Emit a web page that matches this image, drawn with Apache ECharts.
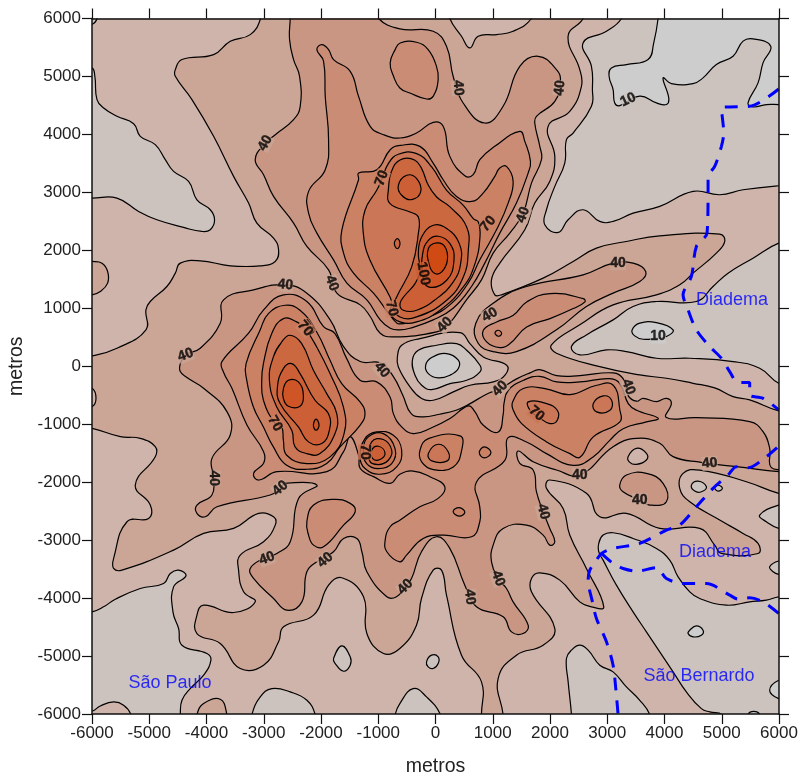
<!DOCTYPE html>
<html><head><meta charset="utf-8">
<style>html,body{margin:0;padding:0;background:#fff}#c{width:801px;height:778px}</style>
<script src="https://cdn.jsdelivr.net/npm/echarts@6/dist/echarts.min.js"></script>
</head><body><div id="c"></div>
<script>
// Band fill colours: index = level band (0: <10, 1: 10-20, 2: 20-30 ... 11: >110)
const bandColors=['#cdcdcd','#ccc3bf','#ceb4aa','#cba595','#c99683','#ca8c75','#cb8163','#cb7656','#cc6840','#cc5f36','#cf5426','#d04a14'];

// Regions below 20
const lo_topRight=[[3248,6200],[3248,6000],[2986,5780],[2578,5578],[2724,5175],[2741,4772],[2724,4485],[2404,4024],[2287,3909],[2258,3506],[2084,3103],[1938,2700],[1909,2441],[2142,2309],[2316,2527],[2578,2700],[2869,2499],[3102,2499],[3451,2642],[3917,2758],[4499,3017],[4964,2959],[5372,3045],[5995,3114],[6200,3114],[6200,6200]];
const lo_rightMid=[[2375,340],[2636,541],[3102,800],[3451,1030],[3859,1117],[4557,1117],[4848,1376],[5110,1606],[5546,1865],[5995,2124],[6200,2124],[6200,-294],[5995,-294],[5663,-35],[5197,81],[4441,138],[3859,138],[3335,253],[2986,282],[2520,196]];
const lo_left=[[-6200,5150],[-6000,5150],[-5950,5000],[-5913,4600],[-5797,4456],[-5564,4312],[-5273,4185],[-5157,3967],[-4895,3823],[-4720,3564],[-4575,3362],[-4313,3189],[-4167,2872],[-3934,2700],[-3859,2527],[-3934,2355],[-4080,2326],[-4400,2395],[-4866,2527],[-5186,2671],[-5564,2902],[-6000,2902],[-6200,2902]];
const lo_corner=[[-6200,5900],[-6000,5900],[-5913,6000],[-5913,6200],[-6200,6200]];
const lo_bottomLeft=[[-6200,-4237],[-6000,-4237],[-5797,-4151],[-5593,-4019],[-5157,-3834],[-4749,-3748],[-4633,-3575],[-4487,-3518],[-4359,-3615],[-4575,-3806],[-4586,-4237],[-4487,-4525],[-4429,-4813],[-3993,-4957],[-3923,-5072],[-4051,-5331],[-4284,-5561],[-4429,-5763],[-4458,-6010],[-4458,-6200],[-6200,-6200]];
const lo_bottomA=[[-3207,-6200],[-3207,-6010],[-3061,-5705],[-2858,-5561],[-2538,-5619],[-2246,-5763],[-2101,-6010],[-2101,-6200]];
const lo_isleA=[[-1781,-5043],[-1636,-4824],[-1490,-5014],[-1490,-5158],[-1606,-5262],[-1752,-5129]];
const lo_bottomB=[[-704,-6200],[-704,-6010],[-623,-5820],[-390,-5561],[-157,-5705],[87,-6010],[87,-6200]];
const lo_isleB=[[-157,-5100],[-70,-4985],[47,-5014],[47,-5129],[-41,-5215],[-128,-5187]];
const lo_bottomC=[[2287,-5043],[2375,-4899],[2520,-4813],[2666,-4899],[2870,-5158],[3102,-5273],[3335,-5532],[3568,-5763],[3742,-6010],[3742,-6200],[2375,-6200],[2375,-6010],[2317,-5446]];
const lo_bottomRight=[[2852,-3057],[2928,-2913],[3102,-2873],[3451,-2971],[3859,-3143],[4091,-3345],[4237,-3633],[4441,-3892],[4615,-4007],[5081,-4122],[5488,-4065],[5779,-4036],[5995,-3978],[6200,-3978],[6200,-6200],[5000,-6200],[5000,-6010],[4790,-5964],[4644,-5907],[4382,-5619],[4150,-5273],[3917,-4928],[3684,-4583],[3451,-4237],[3160,-3777],[2928,-3345],[2852,-3201]];
const lo_rightA=[[5663,-2568],[5995,-2395],[6200,-2395],[6200,-2798],[5995,-2798],[5779,-2683]];
const lo_rightB=[[5837,-3459],[5995,-3360],[6200,-3360],[6200,-3590],[5995,-3590],[5890,-3540]];
const lo_rightC=[[4470,-2050],[4586,-1981],[4732,-2079],[4644,-2165],[4528,-2154]];
const lo_rightD=[[4877,-2096],[4935,-2050],[5011,-2107],[4935,-2154]];
const lo_centerRing=[[-404,104],[-300,276],[20,362],[370,391],[544,276],[777,17],[777,-98],[544,-242],[253,-299],[-67,-403],[-242,-328],[-358,-155]];

// Regions below 10
const gray_topRight=[[3888,6200],[3888,6000],[3812,5580],[3713,5292],[3335,5205],[3073,5148],[3032,5004],[3102,4774],[3131,4543],[3218,4497],[3568,4659],[3859,4543],[4033,4515],[4074,4630],[3975,4975],[4120,4877],[4499,4877],[4673,4975],[4906,5206],[5197,5349],[5372,5609],[5546,5649],[5855,5522],[5721,5234],[5634,4889],[5459,4543],[5546,4474],[5779,4515],[5995,4515],[6200,4515],[6200,6200]];
const gray_right=[[3434,627],[3568,743],[3859,754],[4150,627],[4033,512],[3859,484],[3626,466],[3480,524]];
const gray_center=[[-172,17],[-67,150],[195,219],[399,104],[399,-40],[253,-155],[49,-201],[-125,-126]];
const gray_seA=[[4441,-4554],[4557,-4479],[4673,-4554],[4644,-4640],[4499,-4669],[4412,-4612]];
const gray_seB=[[5837,-5590],[5995,-5417],[6200,-5417],[6200,-5734],[5995,-5734]];
const gray_seC=[[5459,-6200],[5459,-6010],[5558,-5953],[5663,-6010],[5663,-6200]];

// Small 20-30 pockets inside lower regions
const mid_corner=[[-6200,-5953],[-6000,-5953],[-5855,-5861],[-5622,-5792],[-5448,-5849],[-5320,-6010],[-5320,-6200],[-6200,-6200]];

// Level 30 outline
const l30_main=[[2578,6200],[2578,6000],[2316,5694],[2520,5118],[2549,4830],[2345,4398],[1967,4139],[2084,3621],[1996,3189],[1734,2815],[1560,2355],[1123,1779],[978,1491],[1036,1232],[1152,1232],[1880,1520],[2404,1808],[2811,2038],[3335,2153],[3917,2251],[4964,2280],[5052,2153],[4906,1952],[4499,1606],[4266,1405],[3859,1232],[3102,1059],[2520,714],[2025,368],[2113,225],[2869,-6],[3568,-150],[4033,-207],[4499,-294],[4877,-374],[5197,-524],[5488,-581],[5995,-771],[6200,-771],[6200,-2193],[5995,-2193],[5430,-1992],[4615,-1791],[4324,-1848],[4266,-2107],[4441,-2337],[4964,-2654],[5372,-2884],[5634,-3057],[5634,-3230],[4994,-3230],[4877,-3086],[4615,-2798],[3917,-2798],[3335,-2539],[2869,-2597],[2636,-2193],[1996,-1963],[1938,-2107],[2229,-2453],[2345,-2913],[2636,-3489],[2939,-4151],[2724,-4151],[2520,-4065],[2171,-3690],[1822,-3564],[1676,-3661],[1676,-3892],[2084,-4525],[1880,-4813],[1414,-4985],[1094,-5388],[1181,-6010],[1181,-6200],[803,-6200],[803,-6010],[803,-5446],[454,-4985],[192,-3949],[105,-3518],[-41,-3518],[-245,-4007],[-332,-4467],[-623,-4870],[-908,-4957],[-1199,-4612],[-1257,-3978],[-1635,-3650],[-1868,-3777],[-2130,-4295],[-2654,-4496],[-2741,-4755],[-3003,-5158],[-3411,-5216],[-3760,-4784],[-4167,-4612],[-4167,-4295],[-4051,-4122],[-3527,-4249],[-3149,-4065],[-3352,-3892],[-3440,-3518],[-3411,-3259],[-3003,-3028],[-2799,-2741],[-2829,-2597],[-3090,-2539],[-3527,-2798],[-4051,-2884],[-4575,-3172],[-5477,-3518],[-5622,-3489],[-5622,-3316],[-5389,-2683],[-5011,-2625],[-4982,-2395],[-5244,-2050],[-4895,-1560],[-4895,-1388],[-5157,-1244],[-5505,-1215],[-6000,-1071],[-6200,-1071],[-6200,178],[-6000,178],[-5564,311],[-5058,628],[-5058,973],[-4983,1117],[-4692,1376],[-4545,1606],[-4458,1779],[-4109,1819],[-3585,1733],[-3061,1733],[-2800,1808],[-2741,2009],[-2829,2211],[-3120,2470],[-3265,2815],[-3527,3276],[-3876,3967],[-4254,4600],[-4545,5003],[-4545,5118],[-4429,5292],[-3876,5377],[-3585,5607],[-3236,5722],[-3061,5982],[-3061,6200]];
const l30_leftPatch=[[-6200,1808],[-6000,1808],[-5825,1779],[-5727,1635],[-5727,1434],[-5855,1290],[-6000,1232],[-6200,1232]];
const l30_bottomPatch=[[-4167,-6200],[-4167,-6010],[-4051,-5820],[-3760,-5745],[-3643,-6010],[-3643,-6200]];

// Pockets under 30 inside level 30
const hole_top=[[250,6200],[250,6000],[454,5694],[599,5492],[745,5694],[1065,5722],[1356,5780],[1676,6000],[1676,6200]];
const hole_center=[[-666,161],[-591,362],[-271,477],[428,581],[602,391],[835,161],[1243,17],[1214,-155],[1010,-270],[602,-328],[311,-443],[-38,-587],[-242,-558],[-445,-356],[-649,-12]];
const hole_se=[[3364,-1560],[3509,-1416],[3684,-1503],[3684,-1618],[3509,-1693],[3393,-1658]];
const hole_left=[[-6200,-380],[-6000,-380],[-5930,-553],[-6000,-697],[-6200,-697]];

// Level 40 outlines
const l40_north=[[-2538,6200],[-2538,6000],[-2549,5636],[-2479,5291],[-2375,5003],[-2363,4485],[-2479,4254],[-2799,3995],[-2974,3851],[-3149,3564],[-3003,3305],[-2829,2930],[-2479,2470],[-2247,2067],[-1868,1664],[-1723,1261],[-1315,1059],[-1141,858],[-966,570],[-736,506],[20,592],[221,714],[541,1146],[803,1491],[1007,1952],[1298,2297],[1531,2642],[1676,3160],[1851,3564],[1822,3794],[1734,4197],[1763,4312],[2084,4571],[2182,4916],[2113,5118],[1793,5348],[1472,5175],[1181,4485],[861,4197],[483,4542],[308,5003],[192,5521],[-41,5780],[-623,5820],[-995,6000],[-995,6200]];
const l40_west=[[-2625,1405],[-2247,1261],[-1840,800],[-1606,340],[-1315,81],[-966,58],[-736,-178],[-571,-500],[-425,-817],[-222,-874],[69,-828],[360,-759],[573,-662],[890,-483],[1127,-385],[1417,-218],[1650,-115],[1818,-58],[2114,-161],[2523,-161],[3105,-115],[3280,-218],[3367,-511],[3513,-603],[3626,-553],[3859,-610],[4033,-553],[4120,-638],[4033,-886],[4557,-886],[5488,-955],[5721,-1129],[5837,-1416],[5866,-1750],[6200,-1776],[6200,-1830],[5255,-1733],[4644,-1658],[4150,-1560],[3917,-1330],[3509,-1244],[3102,-1388],[2520,-1877],[2113,-1790],[1705,-1647],[1443,-1462],[1472,-1675],[1705,-1791],[1763,-2165],[1880,-2510],[1996,-2798],[2084,-3028],[1996,-3086],[1880,-2913],[1589,-2740],[1181,-2798],[1007,-3086],[978,-3374],[1094,-3661],[1240,-3834],[1356,-4065],[1618,-4467],[1530,-4612],[1327,-4583],[1181,-4324],[716,-4151],[512,-3777],[250,-3143],[17,-2942],[-245,-3201],[-419,-3663],[-530,-3806],[-681,-3978],[-850,-3978],[-1199,-3546],[-1286,-3201],[-1374,-2971],[-1606,-2971],[-1781,-3201],[-2072,-3374],[-2247,-3547],[-2334,-4065],[-2596,-4209],[-2829,-4007],[-3178,-3661],[-3236,-3489],[-3003,-3316],[-2770,-3230],[-2537,-3028],[-2392,-2280],[-2072,-2050],[-2630,-2021],[-2712,-2107],[-2887,-2222],[-3818,-2424],[-4022,-2597],[-4167,-2539],[-4167,-2395],[-3905,-2222],[-3876,-1934],[-3905,-1589],[-3585,-1186],[-3643,-783],[-4051,-380],[-4342,-195],[-4458,-92],[-4458,40],[-4365,196],[-4109,311],[-3760,743],[-3702,1146],[-3178,1319]];
const l40_ridge=[[704,743],[1007,1088],[1589,1376],[2578,1577],[3102,1779],[3451,1779],[3672,1635],[3568,1462],[3102,1261],[2636,1030],[2113,628],[1414,253],[1007,253],[745,397]];
const l40_se=[[3218,-2050],[3335,-1877],[3684,-1848],[3975,-2021],[4033,-2337],[3742,-2395],[3568,-2309],[3276,-2165]];

// Level 50 outlines
const l50_north=[[-2072,5463],[-1985,5550],[-1868,5463],[-1781,5291],[-1490,5089],[-1344,4657],[-1141,4139],[-908,3995],[-617,3938],[-332,4024],[-41,4208],[134,4139],[250,3621],[512,3287],[658,3305],[774,3564],[1036,3794],[1472,4053],[1560,3880],[1659,3535],[1618,3333],[1414,2815],[1123,2297],[861,1779],[629,1376],[308,1002],[-41,800],[-448,656],[-623,628],[-792,656],[-966,800],[-1199,1146],[-1548,1433],[-1781,1836],[-2072,2297],[-2217,2642],[-2217,3017],[-1926,3391],[-1868,3909],[-1926,4657],[-1955,5262]];
const l50_top=[[-792,5233],[-705,5463],[-617,5578],[-332,5590],[-128,5463],[17,5175],[47,4945],[-41,4657],[-157,4611],[-448,4715],[-623,4801],[-733,5003]];
const l50_west=[[-3731,81],[-3265,570],[-3003,973],[-2654,1232],[-2247,1117],[-1956,685],[-1755,564],[-1551,132],[-1318,-241],[-1027,-270],[-794,-529],[-736,-817],[-591,-1047],[-387,-1162],[-96,-1075],[253,-903],[573,-684],[690,-788],[835,-1018],[1097,-1133],[1184,-816],[1196,-644],[1272,-414],[1534,-242],[1818,-173],[2114,-270],[2523,-270],[3047,-213],[3221,-299],[3367,-644],[3513,-759],[3888,-897],[3684,-961],[3277,-1077],[3044,-1278],[2753,-1566],[2404,-1710],[1938,-1508],[1589,-1307],[1269,-1232],[1211,-1624],[716,-1998],[774,-2430],[774,-2683],[629,-2942],[134,-2913],[-215,-2971],[-506,-3259],[-623,-3374],[-850,-3201],[-879,-2999],[-792,-2769],[-617,-2654],[-274,-2424],[47,-2280],[163,-2078],[-99,-1906],[-390,-1808],[-623,-1865],[-792,-2021],[-1083,-1905],[-1315,-1762],[-1344,-1531],[-1490,-1215],[-1606,-1474],[-1897,-1819],[-2770,-1819],[-3090,-1963],[-3178,-1848],[-3003,-1675],[-3003,-1474],[-3294,-1013],[-3556,-380],[-3704,-98]];
const l50_ridge=[[835,621],[1068,765],[1359,880],[1592,1110],[2000,1254],[2581,1167],[2610,1110],[2406,995],[2000,822],[1592,678],[1301,391],[1126,322],[893,420]];
const l50_south=[[-2247,-2683],[-2130,-2395],[-1781,-2297],[-1490,-2366],[-1403,-2510],[-1606,-2741],[-1956,-3115],[-2130,-3086],[-2217,-2913]];

// Level 60 outlines
const l60_north=[[-1344,3333],[-1024,3391],[-792,3736],[-617,3811],[-274,3794],[-41,3506],[134,3218],[367,2930],[629,2844],[832,2988],[1036,3276],[1123,3420],[1240,3448],[1356,3189],[1269,2815],[1065,2355],[774,1836],[570,1433],[250,1059],[-99,858],[-507,743],[-623,731],[-675,743],[-821,915],[-1083,1261],[-1432,1606],[-1606,1952],[-1635,2355],[-1344,3218]];
const l60_west=[[-3297,-241],[-3309,46],[-3065,621],[-2919,909],[-2628,1052],[-2366,966],[-2075,592],[-1842,104],[-1638,-299],[-1318,-615],[-1231,-816],[-1318,-1019],[-1667,-1392],[-1900,-1679],[-2249,-1777],[-2599,-1708],[-2832,-1392],[-3006,-1047],[-3181,-702]];
const l60_blob=[[-1027,-1133],[-736,-1190],[-591,-1449],[-678,-1737],[-969,-1863],[-1231,-1765],[-1318,-1564],[-1231,-1248]];
const l60_se=[[1347,-615],[1534,-385],[1912,-385],[2349,-489],[2814,-328],[3105,-328],[3221,-759],[3221,-960],[2756,-1219],[2523,-1571],[2349,-1507],[1941,-1305],[1505,-989],[1359,-759]];
const l60_center=[[-271,-1449],[-125,-1248],[428,-1202],[457,-1449],[311,-1737],[-38,-1783],[-242,-1650]];
const l60_dotA=[[765,-1489],[852,-1392],[969,-1489],[852,-1581]];
const l60_dotB=[[308,-2507],[413,-2438],[512,-2519],[413,-2585]];
const l60_dotC=[[1039,575],[1097,621],[1155,564],[1097,518]];

// Level 70 outlines
const l70_north=[[-940,3220],[-824,3496],[-649,3657],[-329,3669],[-67,3439],[195,3036],[486,2777],[660,2547],[748,2490],[777,2231],[690,1771],[486,1369],[79,966],[-329,765],[-620,765],[-794,909],[-765,1081],[-794,1196],[-1144,1829],[-1260,2289],[-1231,2691],[-1027,3036]];
const l70_west=[[-3035,-241],[-3006,46],[-2861,564],[-2657,822],[-2424,765],[-2278,650],[-2075,333],[-1842,-126],[-1609,-702],[-1597,-1162],[-1842,-1564],[-2249,-1679],[-2599,-1535],[-2657,-1277],[-2686,-1047],[-2803,-989],[-3006,-587]];
const l70_blob=[[-1173,-1219],[-911,-1162],[-707,-1420],[-765,-1679],[-998,-1765],[-1202,-1679],[-1260,-1449]];
const l70_seA=[[1621,-615],[1941,-644],[2127,-759],[2127,-931],[1999,-989],[1796,-874],[1651,-759]];
const l70_seB=[[2756,-644],[2931,-512],[3076,-587],[3047,-759],[2814,-788]];
const l70_center=[[-125,-1507],[49,-1346],[224,-1478],[206,-1633],[-67,-1633]];

// Level 80 outlines
const l80_north=[[-824,3036],[-736,3439],[-562,3582],[-358,3554],[-242,3410],[-125,3122],[20,2921],[253,2749],[544,2404],[573,2001],[486,1541],[195,1139],[-329,851],[-620,851],[-736,1024],[-678,1196],[-416,1714],[-300,2289],[-300,2576],[-445,2662],[-794,2806]];
const l80_dot=[[-719,2116],[-666,2202],[-620,2116],[-666,2030]];
const l80_west=[[-2901,-241],[-2832,161],[-2686,420],[-2541,535],[-2337,391],[-2133,-69],[-1900,-472],[-1725,-817],[-1755,-1162],[-2017,-1507],[-2249,-1507],[-2453,-1392],[-2511,-1104],[-2773,-702]];
const l80_blob=[[-1115,-1305],[-911,-1265],[-765,-1449],[-824,-1622],[-998,-1696],[-1155,-1622]];

// Level 90 outlines
const l90_sub=[[-649,3122],[-503,3295],[-329,3237],[-259,3007],[-416,2875],[-591,2950]];
const l90_north=[[-242,2231],[-38,2432],[195,2375],[416,2116],[439,1771],[311,1455],[20,1167],[-329,966],[-562,966],[-620,1081],[-533,1225],[-358,1426],[-271,1656],[-300,1943]];
const l90_west=[[-2761,-357],[-2657,-40],[-2512,46],[-2366,-127],[-2104,-587],[-1871,-817],[-1853,-1104],[-1987,-1334],[-2220,-1305],[-2395,-1047],[-2715,-644]];
const l90_blob=[[-1115,-1449],[-998,-1380],[-882,-1495],[-969,-1610],[-1097,-1593]];

// Level 100 and 110 outlines
const l100_north=[[-224,1943],[-125,2173],[49,2243],[253,2116],[323,1828],[195,1484],[-125,1369],[-224,1598]];
const l100_west=[[-2657,-385],[-2570,-242],[-2395,-270],[-2308,-500],[-2366,-690],[-2570,-690],[-2657,-558]];
const l100_dot=[[-2133,-1018],[-2086,-914],[-2034,-1018],[-2086,-1104]];
const l110_north=[[-125,2030],[20,2128],[166,2059],[207,1828],[108,1627],[-9,1599],[-107,1742]];

// Municipal boundaries
const borderA=[[5995,4784],[5488,4485],[5110,4473],[4994,4456],[5034,4024],[4994,3794],[4877,3449],[4761,3276],[4761,3045],[4743,2297],[4557,2067],[4470,1549],[4324,1232],[4412,973],[4557,627],[4790,340],[4994,138],[5139,-92],[5284,-282],[5488,-282],[5488,-495],[5721,-553],[5995,-754]];
const borderB=[[5966,-1405],[5779,-1560],[5459,-1750],[5255,-1733],[5110,-1877],[4848,-2107],[4557,-2424],[4266,-2740],[4033,-2827],[3568,-3057],[3102,-3143],[2898,-3230],[2811,-3345],[2695,-3518],[2666,-3691],[2741,-4065],[2811,-4352],[2986,-4755],[3102,-5158],[3149,-5561],[3189,-6010]];
const borderC=[[2898,-3230],[3102,-3403],[3277,-3489],[3509,-3535],[3859,-3477],[4033,-3662],[4324,-3748],[4732,-3748],[5139,-3949],[5284,-4019],[5488,-3996],[5721,-4065],[5995,-4266]];

// Contour labels: x, y, text, rotation, band behind
const contourLabels=[[-2974,3851,'40',60,3],[-2625,1405,'40',-5,3],[-1810,1433,'40',-70,3],[-2247,656,'70',-55,6],[-937,3247,'70',70,6],[-765,995,'70',-75,6],[-4365,196,'40',20,3],[-937,-63,'40',-50,3],[396,4801,'40',-85,3],[2171,4801,'40',85,3],[3364,4600,'10',25,1],[1531,2614,'40',70,3],[920,2458,'70',50,6],[163,714,'40',45,3],[949,887,'40',30,3],[3189,1779,'40',0,3],[3888,512,'10',0,0],[-212,1598,'100',-80,9],[1127,-385,'40',45,3],[3367,-356,'40',-70,3],[-2803,-989,'70',-60,6],[-2278,650,'70',-50,6],[-1231,-1478,'70',-90,7],[1766,-816,'70',-40,7],[2520,-1877,'40',0,3],[4790,-1675,'40',5,3],[3568,-2309,'40',0,3],[1880,-2510,'40',-75,3],[1094,-3661,'40',-70,3],[599,-3978,'40',-85,3],[-530,-3806,'40',45,3],[-3876,-1934,'40',-90,3],[-2712,-2107,'40',40,3],[-2945,-3316,'40',20,3],[-1926,-3345,'40',40,3]];
const placeLabels=[[-4638,-5468,'São Paulo'],[5180,1138,'Diadema'],[4883,-3209,'Diadema'],[4603,-5348,'São Bernardo']];

// Paint order, low to high
const regions=[
[1,lo_topRight],[1,lo_rightMid],[1,lo_left],[1,lo_corner],[1,lo_bottomLeft],[1,lo_bottomA],[1,lo_isleA],[1,lo_bottomB],[1,lo_isleB],[1,lo_bottomC],[1,lo_bottomRight],[1,lo_rightA],[1,lo_rightB],[1,lo_rightC],[1,lo_rightD],
[0,gray_topRight],[0,gray_right],[0,gray_seA],[0,gray_seB],[0,gray_seC],[2,mid_corner],
[3,l30_main],[3,l30_leftPatch],[3,l30_bottomPatch],[2,hole_top],[2,hole_center],[2,hole_se],[2,hole_left],[1,lo_centerRing],[0,gray_center],
[4,l40_north],[4,l40_west],[4,l40_ridge],[4,l40_se],
[5,l50_north],[5,l50_top],[5,l50_west],[5,l50_ridge],[5,l50_south],
[6,l60_north],[6,l60_west],[6,l60_blob],[6,l60_se],[6,l60_center],[6,l60_dotA],[6,l60_dotB],[6,l60_dotC],
[7,l70_north],[7,l70_west],[7,l70_blob],[7,l70_seA],[7,l70_seB],[7,l70_center],
[8,l80_north],[8,l80_dot],[8,l80_west],[8,l80_blob],
[9,l90_sub],[9,l90_north],[9,l90_west],[9,l90_blob],
[10,l100_north],[10,l100_west],[10,l100_dot],[11,l110_north]];

const FONT='"Liberation Sans",Arial,sans-serif';
const chart=echarts.init(document.getElementById('c'),null,{renderer:'canvas'});
function axisBase(extra){return Object.assign({type:'value',min:-6000,max:6000,interval:1000,z:10,splitLine:{show:false},
  axisLine:{show:true,onZero:false,lineStyle:{color:'#111',width:1.5}},
  axisTick:{show:true,inside:false,length:10,lineStyle:{color:'#111',width:1.2}},
  axisLabel:{show:true,color:'#222',fontFamily:FONT,fontSize:17,margin:11,hideOverlap:false,formatter:v=>String(v)}},extra);}
const hidden={show:false};
chart.setOption({
  animation:false,backgroundColor:'#fff',
  grid:{left:92,right:22,top:18.5,bottom:64,outerBoundsMode:'none',show:true,backgroundColor:bandColors[2],borderWidth:0},
  xAxis:[axisBase({position:'bottom',name:'metros',nameLocation:'middle',nameGap:43,nameTextStyle:{fontFamily:FONT,fontSize:19.5,color:'#222'}}),axisBase({position:'top',axisLabel:hidden})],
  yAxis:[axisBase({position:'left',name:'metros',nameLocation:'middle',nameGap:65,nameTextStyle:{fontFamily:FONT,fontSize:19.5,color:'#222'}}),axisBase({position:'right',axisLabel:hidden})],
  series:[
    {type:'custom',silent:true,clip:true,z:2,coordinateSystem:'cartesian2d',
     data:regions.map((r,i)=>[r[1][0][0],r[1][0][1],i]),
     renderItem(params,api){
       const r=regions[params.dataIndex];
       const pts=r[1].map(p=>api.coord(p));
       return {type:'polygon',shape:{points:pts,smooth:0.45},style:{fill:bandColors[r[0]],stroke:'#000',lineWidth:1.2}};
     }},
    ...[borderA,borderB,borderC].map(b=>({type:'line',silent:true,z:4,data:b,symbol:'none',showSymbol:false,smooth:0.3,clip:true,
       lineStyle:{color:'#0000ff',width:3,type:[13,10]}})),
    {type:'scatter',silent:true,z:5,symbolSize:0,clip:false,
     data:contourLabels.map(l=>({value:[l[0],l[1]],label:{show:true,position:'inside',formatter:l[2],rotate:l[3],color:'#000',fontFamily:FONT,fontWeight:'bold',fontSize:14,textBorderColor:'#000',textBorderWidth:0.4,backgroundColor:bandColors[l[4]]}}))},
    {type:'scatter',silent:true,z:5,symbolSize:0,clip:false,
     data:placeLabels.map(l=>({value:[l[0],l[1]],label:{show:true,position:'inside',formatter:l[2],color:'#0000ff',fontFamily:FONT,fontSize:18}}))}
  ]
});
</script></body></html>
